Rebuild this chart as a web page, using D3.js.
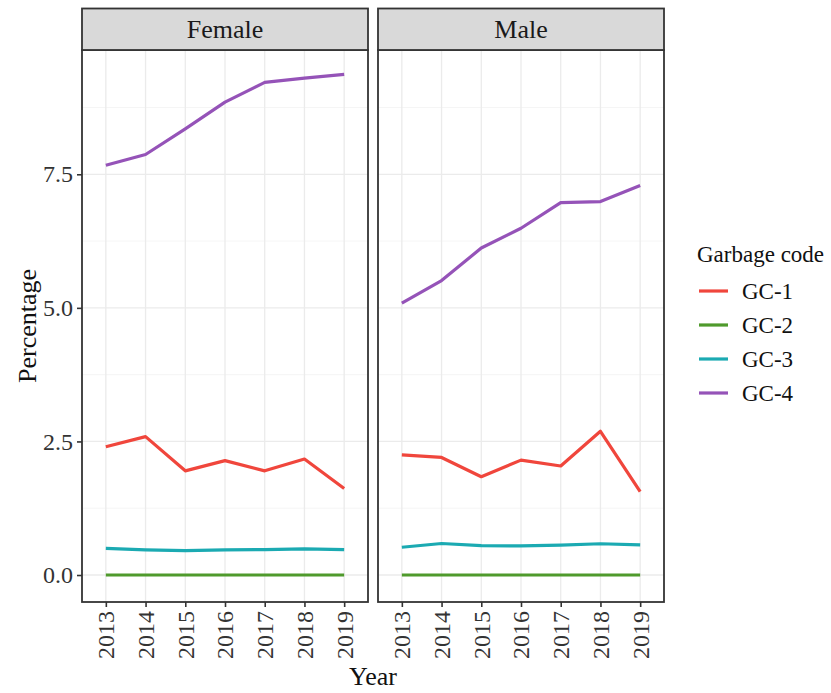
<!DOCTYPE html>
<html>
<head>
<meta charset="utf-8">
<script src="https://cdn.jsdelivr.net/npm/d3@7"></script>
<style>
  body { margin: 0; background: #fff; }
  svg, svg text { font-family: "Liberation Serif", "Times New Roman", serif !important; }
  svg { display: block; }
</style>
</head>
<body>
<svg id="chart" width="831" height="693"></svg>
<script>
// Share of deaths assigned to each garbage code, by sex and year
const years = ["2013", "2014", "2015", "2016", "2017", "2018", "2019"];
const panels = ["Female", "Male"];
const codes = ["GC-1", "GC-2", "GC-3", "GC-4"];
const codeColors = ["#F0463C", "#4F9A2C", "#1BAAB2", "#9553B8"];

const femaleGC1 = [2.40, 2.59, 1.95, 2.14, 1.95, 2.17, 1.62];
const femaleGC2 = [0.00, 0.00, 0.00, 0.00, 0.00, 0.00, 0.00];
const femaleGC3 = [0.50, 0.47, 0.455, 0.47, 0.475, 0.49, 0.475];
const femaleGC4 = [7.67, 7.87, 8.35, 8.85, 9.22, 9.30, 9.37];

const maleGC1 = [2.25, 2.20, 1.84, 2.15, 2.04, 2.69, 1.56];
const maleGC2 = [0.00, 0.00, 0.00, 0.00, 0.00, 0.00, 0.00];
const maleGC3 = [0.52, 0.59, 0.55, 0.545, 0.56, 0.585, 0.565];
const maleGC4 = [5.09, 5.51, 6.12, 6.49, 6.97, 6.99, 7.29];

const yTicks = [0, 2.5, 5, 7.5];
const yMinor = [1.25, 3.75, 6.25, 8.75];

const seriesByPanel = {
  Female: [femaleGC1, femaleGC2, femaleGC3, femaleGC4],
  Male: [maleGC1, maleGC2, maleGC3, maleGC4]
};

const svg = d3.select("#chart");

const plotTop = 50, plotBottom = 602, stripTop = 8.5;
const panelX = { Female: [82, 368], Male: [378, 664] };

const y = d3.scaleLinear().domain([-0.505, 9.826]).range([plotBottom, plotTop]);

const lineColor = d3.scaleOrdinal().domain(codes).range(codeColors);

panels.forEach((p, pi) => {
  const [x0, x1] = panelX[p];
  const x = d3.scalePoint().domain(years).range([x0, x1]).padding(0.6);
  const g = svg.append("g");

  // panel background
  g.append("rect").attr("x", x0).attr("y", plotTop)
    .attr("width", x1 - x0).attr("height", plotBottom - plotTop)
    .attr("fill", "#fff");

  // minor horizontal grid
  g.selectAll(".ymin").data(yMinor).join("line")
    .attr("x1", x0).attr("x2", x1)
    .attr("y1", d => y(d)).attr("y2", d => y(d))
    .attr("stroke", "#F2F2F2").attr("stroke-width", 0.8);

  // major horizontal grid
  g.selectAll(".ymaj").data(yTicks).join("line")
    .attr("x1", x0).attr("x2", x1)
    .attr("y1", d => y(d)).attr("y2", d => y(d))
    .attr("stroke", "#EBEBEB").attr("stroke-width", 1.3);

  // vertical grid
  g.selectAll(".xg").data(years).join("line")
    .attr("x1", d => x(d)).attr("x2", d => x(d))
    .attr("y1", plotTop).attr("y2", plotBottom)
    .attr("stroke", "#EBEBEB").attr("stroke-width", 1.3);

  // series lines
  const line = d3.line().x((d, i) => x(years[i])).y(d => y(d));
  seriesByPanel[p].forEach((vals, ci) => {
    g.append("path").datum(vals)
      .attr("d", line)
      .attr("fill", "none")
      .attr("stroke", lineColor(codes[ci]))
      .attr("stroke-width", 3.2)
      .attr("stroke-linejoin", "round");
  });

  // panel border
  g.append("rect").attr("x", x0).attr("y", plotTop)
    .attr("width", x1 - x0).attr("height", plotBottom - plotTop)
    .attr("fill", "none").attr("stroke", "#333").attr("stroke-width", 1.8);

  // strip
  g.append("rect").attr("x", x0).attr("y", stripTop)
    .attr("width", x1 - x0).attr("height", plotTop - stripTop)
    .attr("fill", "#D9D9D9").attr("stroke", "#333").attr("stroke-width", 1.8);
  g.append("text").attr("x", (x0 + x1) / 2).attr("y", (stripTop + plotTop) / 2)
    .attr("text-anchor", "middle").attr("dominant-baseline", "central")
    .attr("font-size", 26).attr("fill", "#1a1a1a").text(p);

  // x axis
  const xAxis = g.append("g").attr("transform", `translate(0,${plotBottom})`)
    .call(d3.axisBottom(x).tickSize(5).tickPadding(4));
  xAxis.attr("font-family", null);
  xAxis.select(".domain").remove();
  xAxis.selectAll(".tick line").attr("stroke", "#333").attr("stroke-width", 1.6);
  xAxis.selectAll(".tick text")
    .attr("font-size", 24).attr("fill", "#333")
    .attr("transform", "rotate(-90)")
    .attr("text-anchor", "end")
    .attr("dy", "0.33em").attr("x", -9).attr("y", 0);

  // y axis on the first panel only
  if (pi === 0) {
    const yAxis = g.append("g").attr("transform", `translate(${x0},0)`)
      .call(d3.axisLeft(y).tickValues(yTicks).tickFormat(d3.format(".1f")).tickSize(5).tickPadding(4));
    yAxis.attr("font-family", null);
    yAxis.select(".domain").remove();
    yAxis.selectAll(".tick line").attr("stroke", "#333").attr("stroke-width", 1.6);
    yAxis.selectAll(".tick text")
      .attr("font-size", 24).attr("fill", "#333");
  }
});

// axis titles
svg.append("text").attr("x", 373).attr("y", 685)
  .attr("text-anchor", "middle").attr("font-size", 26).attr("fill", "#111").text("Year");
svg.append("text").attr("transform", `translate(36,${(plotTop + plotBottom) / 2}) rotate(-90)`)
  .attr("text-anchor", "middle").attr("font-size", 26).attr("fill", "#111").text("Percentage");

// legend
const legend = svg.append("g");
legend.append("text").attr("x", 697).attr("y", 262)
  .attr("font-size", 23).attr("fill", "#111").text("Garbage code");
const keyY = d3.scalePoint().domain(codes).range([291, 393]);
codes.forEach(c => {
  legend.append("line")
    .attr("x1", 699).attr("x2", 728)
    .attr("y1", keyY(c)).attr("y2", keyY(c))
    .attr("stroke", lineColor(c)).attr("stroke-width", 3.2);
  legend.append("text").attr("x", 742).attr("y", keyY(c))
    .attr("dominant-baseline", "central")
    .attr("font-size", 23).attr("fill", "#111").text(c);
});
</script>
</body>
</html>
